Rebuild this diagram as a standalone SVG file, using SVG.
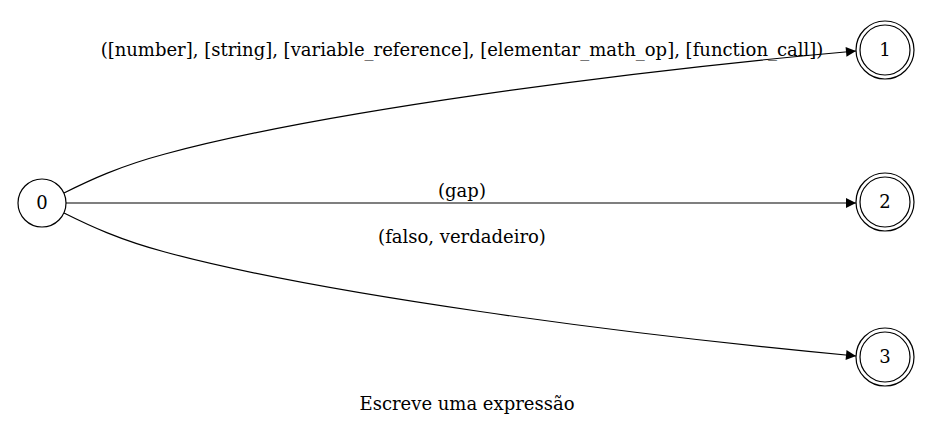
<svg xmlns="http://www.w3.org/2000/svg" width="934" height="440" viewBox="0 0 934 440">
<style>
text{font-family:"DejaVu Serif","Liberation Serif",serif;font-size:18px;fill:#000;text-anchor:middle}
.n{fill:#fff;stroke:#000;stroke-width:1.2}
.e{fill:none;stroke:#000;stroke-width:1.2}
</style>
<defs>
<marker id="a" viewBox="0 0 10 10" refX="10" refY="5" markerWidth="16" markerHeight="10" markerUnits="userSpaceOnUse" orient="auto">
<path d="M0,0L10,5L0,10z" fill="#000"/>
</marker>
</defs>
<rect width="934" height="440" fill="#fff"/>
<g id="edges">
<path class="e" d="M64,193C90,180 120,166 165,154C320,112 620,72 856,51" marker-end="url(#a)"/>
<path class="e" d="M66,203L856,203" marker-end="url(#a)"/>
<path class="e" d="M64,213C90,226 120,240 165,252C320,294 620,334 856,356" marker-end="url(#a)"/>
<text x="462" y="56">([number], [string], [variable_reference], [elementar_math_op], [function_call])</text>
<text x="462" y="197">(gap)</text>
<text x="462" y="243">(falso, verdadeiro)</text>
</g>
<g id="node0"><circle class="n" cx="42" cy="203" r="24"/><text x="42" y="209">0</text></g>
<g id="node1"><circle class="n" cx="885" cy="50" r="29"/><circle class="n" cx="885" cy="50" r="25"/><text x="885" y="56">1</text></g>
<g id="node2"><circle class="n" cx="885" cy="202" r="29"/><circle class="n" cx="885" cy="202" r="25"/><text x="885" y="208">2</text></g>
<g id="node3"><circle class="n" cx="885" cy="357" r="29"/><circle class="n" cx="885" cy="357" r="25"/><text x="885" y="363">3</text></g>
<text x="467" y="410">Escreve uma expressão</text>
</svg>
